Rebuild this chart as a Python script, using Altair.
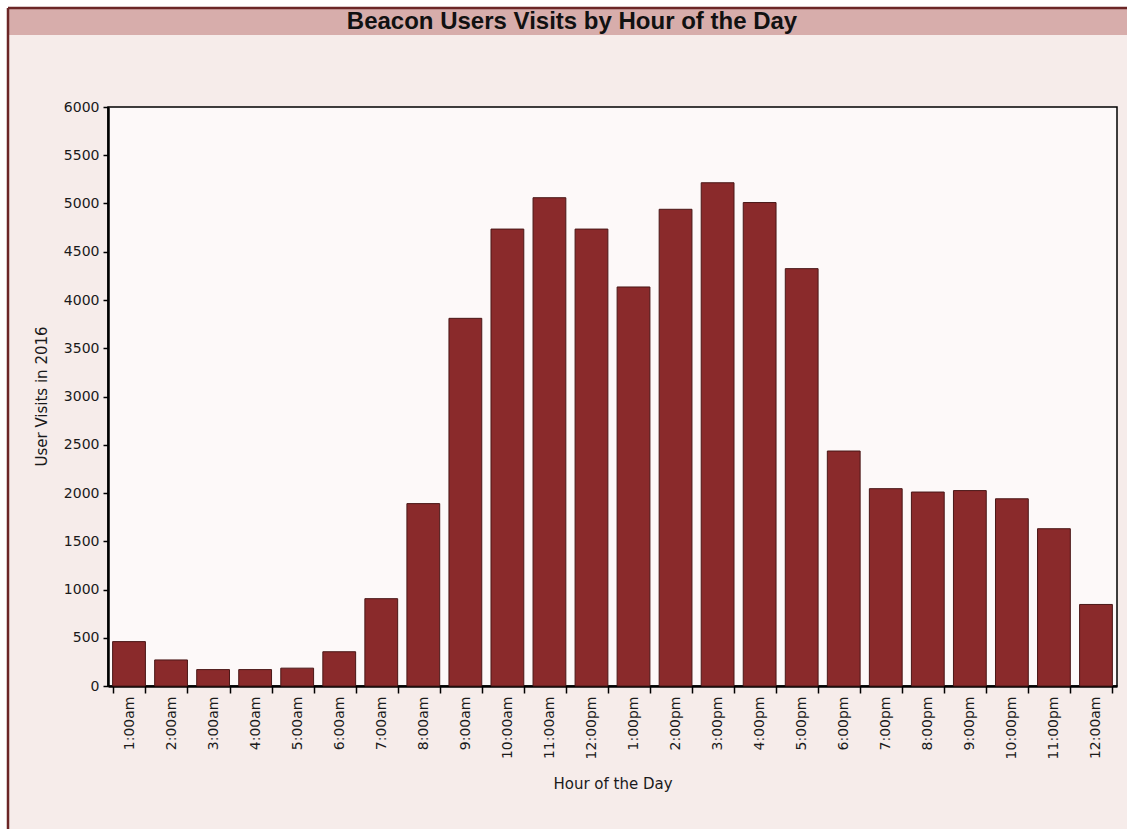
import altair as alt
import pandas as pd

# Hourly beacon visits for 2016
hours = [
    "1:00am", "2:00am", "3:00am", "4:00am", "5:00am", "6:00am",
    "7:00am", "8:00am", "9:00am", "10:00am", "11:00am", "12:00pm",
    "1:00pm", "2:00pm", "3:00pm", "4:00pm", "5:00pm", "6:00pm",
    "7:00pm", "8:00pm", "9:00pm", "10:00pm", "11:00pm", "12:00am",
]
visits = [
    460, 270, 170, 170, 185, 355,
    905, 1890, 3810, 4735, 5060, 4735,
    4135, 4940, 5215, 5010, 4325, 2435,
    2045, 2010, 2025, 1940, 1630, 845,
]
y_ticks = list(range(0, 6001, 500))
chart_title = "Beacon Users Visits by Hour of the Day"

df = pd.DataFrame({"hour": hours, "visits": visits})

PLOT_W, PLOT_H = 1009, 579
PAD = {"left": 108, "top": 107, "right": 10, "bottom": 143}

AXIS_FONT = "DejaVu Sans"
TEXT_COLOR = "#1a1a1a"
BAR_FILL = "#8a2a2b"
BAND_FILL = "#d7adab"
FRAME = "#6b2626"

one = alt.Data(values=[{"k": 0}])


def deco_rect(x, x2, y, y2, fill):
    return alt.Chart(one).mark_rect(fill=fill, clip=False, strokeWidth=0).encode(
        x=alt.value(x), x2=alt.value(x2), y=alt.value(y), y2=alt.value(y2)
    )


def deco_rule(x, x2, y, y2):
    return alt.Chart(one).mark_rule(color=FRAME, strokeWidth=2.5, clip=False).encode(
        x=alt.value(x), x2=alt.value(x2), y=alt.value(y), y2=alt.value(y2)
    )


# page frame: white margin, dark red border on top/left, title band
white_top = deco_rect(-108, PLOT_W + 10, -107, -100, "white")
white_left = deco_rect(-108, -100, -107, PLOT_H + 143, "white")
band = deco_rect(-99, PLOT_W + 10, -98, -72, BAND_FILL)
border_top = deco_rule(-100, PLOT_W + 10, -99, -99)
border_left = deco_rule(-100, -100, -99, PLOT_H + 143)

# heading text sitting in the band
heading = alt.Chart(one).mark_text(
    text=chart_title,
    font="Liberation Sans",
    fontSize=24,
    fontWeight="bold",
    color="#111111",
    align="center",
    baseline="middle",
    clip=False,
).encode(x=alt.value(464), y=alt.value(-85))

bars = alt.Chart(df).mark_bar(
    color=BAR_FILL, stroke="#4a1717", strokeWidth=1
).encode(
    x=alt.X(
        "hour:N",
        sort=hours,
        title="Hour of the Day",
        scale=alt.Scale(paddingInner=0.22, paddingOuter=0.11),
        axis=alt.Axis(
            labelAngle=-90,
            labelAlign="right",
            labelBaseline="middle",
            labelFont=AXIS_FONT,
            labelFontSize=14,
            labelColor=TEXT_COLOR,
            labelPadding=3,
            tickBand="extent",
            tickSize=7,
            tickColor="black",
            tickWidth=1.5,
            domainColor="black",
            domainWidth=2.5,
            titleFont=AXIS_FONT,
            titleFontSize=15,
            titleFontWeight="normal",
            titleColor=TEXT_COLOR,
            titleY=97,
            titleBaseline="middle",
        ),
    ),
    y=alt.Y(
        "visits:Q",
        title="User Visits in 2016",
        scale=alt.Scale(domain=[0, 6000], nice=False),
        axis=alt.Axis(
            values=y_ticks,
            format="d",
            grid=False,
            labelFont=AXIS_FONT,
            labelFontSize=14,
            labelColor=TEXT_COLOR,
            labelPadding=4,
            tickSize=5,
            tickColor="black",
            tickWidth=1.5,
            domainColor="black",
            domainWidth=2.5,
            titleFont=AXIS_FONT,
            titleFontSize=15,
            titleFontWeight="normal",
            titleColor=TEXT_COLOR,
            titleX=-67,
            titleY=289,
            titleAlign="center",
            titleBaseline="middle",
        ),
    ),
)

chart = alt.layer(
    white_top, white_left, band, border_top, border_left, heading, bars
).properties(
    width=PLOT_W,
    height=PLOT_H,
    autosize=alt.AutoSizeParams(type="none"),
    padding=PAD,
).configure(
    background="#f6ecea",
).configure_view(
    fill="#fdf9f9",
    stroke="black",
    strokeWidth=1.5,
)

chart.save("out.html", embed_options={"renderer": "svg", "actions": False})
